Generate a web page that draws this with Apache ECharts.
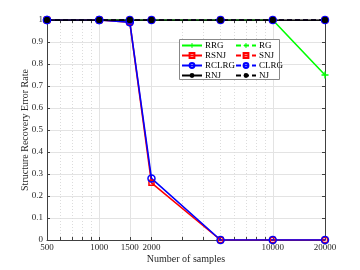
<!DOCTYPE html>
<html>
<head>
<meta charset="utf-8">
<script src="https://cdn.jsdelivr.net/npm/echarts@6/dist/echarts.min.js"></script>
<style>html,body{margin:0;padding:0;background:#fff;}#c{width:360px;height:270px;}</style>
</head>
<body>
<div id="c"></div>
<script>
const samples = [500, 1000, 1500, 2000, 5000, 10000, 20000];
const rrg   = [1, 1, 1, 1, 1, 1, 0.75];
const rg    = [1, 1, 1, 1, 1, 1, 1];
const rsnj  = [1, 1, 0.99, 0.26, 0, 0, 0];
const snj   = [1, 1, 1, 1, 1, 1, 1];
const rclrg = [1, 1, 0.99, 0.28, 0, 0, 0];
const clrg  = [1, 1, 1, 1, 1, 1, 1];
const rnj   = [1, 1, 1, 1, 1, 1, 1];
const nj    = [1, 1, 1, 1, 1, 1, 1];
const xTickLabels = [500, 1000, 1500, 2000, 10000, 20000];
const xMinorTicks = [600, 700, 800, 900, 3000, 4000, 5000, 6000, 7000, 8000, 9000];

const FONT = 'Liberation Serif';
const AX = '#404040';
const PLUS = 'path://M4,0h2v4h4v2h-4v4h-2v-4h-4v-2h4z';
const pair = ys => samples.map((x, i) => [x, ys[i]]);

function mk(name, ys, color, dashed, symbol, size, filled) {
  return {
    name, type: 'line', data: pair(ys), xAxisIndex: 0, yAxisIndex: 0,
    symbol, symbolSize: size, showSymbol: true,
    lineStyle: { color, width: 1.6, type: dashed ? [5, 3] : 'solid' },
    itemStyle: filled ? { color, borderColor: color, borderWidth: 0 }
                      : { color: 'rgba(0,0,0,0)', borderColor: color, borderWidth: 1.5 },
    emphasis: { disabled: true }, animation: false
  };
}

const series = [
  mk('RRG', rrg, '#00ff00', false, PLUS, 7, true),
  mk('RG', rg, '#00ff00', true, PLUS, 7, true),
  mk('RSNJ', rsnj, '#ff0000', false, 'rect', 5, false),
  mk('SNJ', snj, '#ff0000', true, 'rect', 5, false),
  mk('RCLRG', rclrg, '#0000ff', false, 'circle', 7, false),
  mk('CLRG', clrg, '#0000ff', true, 'circle', 7, false),
  mk('RNJ', rnj, '#000000', false, 'circle', 6, true),
  mk('NJ', nj, '#000000', true, 'circle', 6, true)
];
series[0].markLine = {
  silent: true, symbol: 'none', z: 0, animation: false,
  label: { show: false },
  data: [
    ...[1000, 1500, 2000, 10000].map(v => ({ xAxis: v, lineStyle: { color: '#e3e3e3', type: 'solid', width: 1 } })),
    ...xMinorTicks.map(v => ({ xAxis: v, lineStyle: { color: '#dcdcdc', type: [1, 2], width: 1 } }))
  ]
};

const legendCommon = {
  orient: 'vertical', top: 40, z: 100,
  itemWidth: 20, itemHeight: 6, itemGap: 1, padding: 1,
  textStyle: { fontFamily: FONT, fontSize: 9, lineHeight: 9, color: '#000', padding: [0, 0, 0, -2] },
  selectedMode: false
};

const chart = echarts.init(document.getElementById('c'), null, { renderer: 'canvas' });
chart.setOption({
  animation: false,
  backgroundColor: '#fff',
  grid: { left: 47, right: 35, top: 20, bottom: 30 },
  xAxis: [{
    type: 'log', logBase: 10, min: 500, max: 20000,
    name: 'Number of samples', nameLocation: 'middle', nameGap: 14, nameMoveOverlap: false,
    nameTextStyle: { fontFamily: FONT, fontSize: 10, color: '#262626' },
    axisLine: { show: true, onZero: false, lineStyle: { color: AX, width: 1 } },
    axisTick: { show: true, inside: true, length: 3, lineStyle: { color: AX }, customValues: xTickLabels.concat(xMinorTicks) },
    axisLabel: { fontFamily: FONT, fontSize: 9, color: '#262626', margin: 3, customValues: xTickLabels, formatter: v => String(Math.round(v)) },
    splitLine: { show: false }, minorTick: { show: false }
  }, {
    type: 'log', logBase: 10, min: 500, max: 20000, position: 'top',
    axisLine: { show: true, onZero: false, lineStyle: { color: AX, width: 1 } },
    axisTick: { show: true, inside: true, length: 3, lineStyle: { color: AX }, customValues: xTickLabels.concat(xMinorTicks) },
    axisLabel: { show: false }, splitLine: { show: false }
  }],
  yAxis: [{
    type: 'value', min: 0, max: 1, interval: 0.1,
    name: 'Structure Recovery Error Rate', nameLocation: 'middle', nameGap: 17, nameMoveOverlap: false,
    nameTextStyle: { fontFamily: FONT, fontSize: 10, color: '#262626' },
    axisLine: { show: true, lineStyle: { color: AX, width: 1 } },
    axisTick: { show: true, inside: true, length: 3, lineStyle: { color: AX } },
    axisLabel: { fontFamily: FONT, fontSize: 9, color: '#262626', margin: 4 },
    splitLine: { show: true, lineStyle: { color: '#e3e3e3', width: 1 } }
  }, {
    type: 'value', min: 0, max: 1, interval: 0.1, position: 'right',
    axisLine: { show: true, lineStyle: { color: AX, width: 1 } },
    axisTick: { show: true, inside: true, length: 3, lineStyle: { color: AX } },
    axisLabel: { show: false }, splitLine: { show: false }
  }],
  legend: [
    Object.assign({ data: ['RRG', 'RSNJ', 'RCLRG', 'RNJ'], left: 180 }, legendCommon),
    Object.assign({ data: ['RG', 'SNJ', 'CLRG', 'NJ'], left: 234 }, legendCommon)
  ],
  graphic: [{
    type: 'rect', left: 179, top: 39, z: 90,
    shape: { width: 100, height: 40 },
    style: { fill: '#fff', stroke: '#888', lineWidth: 1 }, silent: true
  }],
  series
});
</script>
</body>
</html>
